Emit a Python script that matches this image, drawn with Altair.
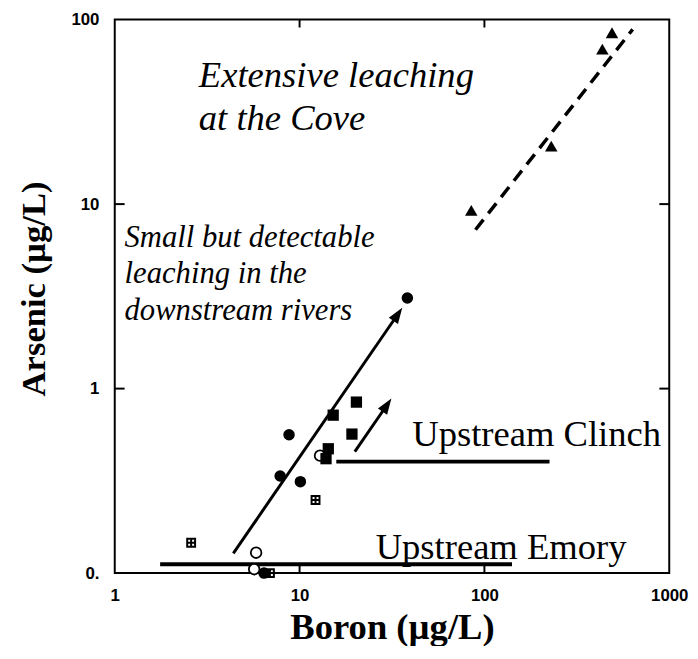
import altair as alt
import pandas as pd

# ---- data (Boron µg/L, Arsenic µg/L) ----
filled_circle_boron = [8.77, 7.85, 10.1, 38.3, 6.42]
filled_circle_arsenic = [0.562, 0.336, 0.313, 3.1, 0.1]
open_circle_boron = [12.9, 5.82, 5.68]
open_circle_arsenic = [0.433, 0.129, 0.105]
filled_square_boron = [20.3, 15.2, 19.2, 14.3, 13.9]
filled_square_arsenic = [0.845, 0.718, 0.567, 0.472, 0.417]
crossed_square_boron = [2.59, 12.2, 6.91]
crossed_square_arsenic = [0.146, 0.249, 0.1]
triangle_boron = [490, 434.6, 230, 84.9]
triangle_arsenic = [84.9, 69.2, 20.6, 9.25]

# trend line through the Cove samples (dashed)
trend_boron = [89.5, 634]
trend_arsenic = [7.26, 88.5]
# arrows: start and head
long_arrow_boron = [4.38, 34.0]
long_arrow_arsenic = [0.128, 2.53]
short_arrow_boron = [19.9, 29.7]
short_arrow_arsenic = [0.455, 0.815]
# upstream reference levels
clinch_boron = [15.8, 225]
clinch_arsenic = 0.402
emory_boron = [1.76, 141]
emory_arsenic = 0.1117

x_ticks = [1, 10, 100, 1000]
y_ticks = [0.1, 1, 10, 100]
inner_x_ticks = [10, 100]
inner_y_ticks = [1, 10]

annotations = [
    "Extensive leaching\nat the Cove",
    "Small but detectable\nleaching in the\ndownstream rivers",
    "Upstream Clinch",
    "Upstream Emory",
]
annot_boron = [2.85, 1.13, 40.7, 25.8]
annot_arsenic = [43.2, 5.89, 0.49, 0.119]

# ---- scales / axes ----
xscale = alt.Scale(type="log", domain=[1, 1000], nice=False)
yscale = alt.Scale(type="log", domain=[0.1, 100], nice=False)
xaxis = alt.Axis(
    values=x_ticks, title="Boron (µg/L)", format="~g",
    labelFont="Liberation Sans", labelFontSize=17, labelFontWeight="bold",
    labelPadding=15, labelFlush=False, labelColor="black",
    titleFont="Liberation Serif", titleFontSize=37, titleFontWeight="bold",
    titleX=280.5, titleY=66, titleBaseline="alphabetic", titleAlign="center",
    titleColor="black",
)
yaxis = alt.Axis(
    values=y_ticks, title="Arsenic (µg/L)",
    labelExpr="datum.value < 0.5 ? '0.' : format(datum.value, '~g')",
    labelFont="Liberation Sans", labelFontSize=17, labelFontWeight="bold",
    labelPadding=16, labelFlush=False, labelColor="black",
    titleFont="Liberation Serif", titleFontSize=35, titleFontWeight="bold",
    titleX=-71, titleY=272, titleAngle=-90, titleBaseline="alphabetic",
    titleAlign="center", titleColor="black",
)

def X(f):
    return alt.X(f, type="quantitative", scale=xscale, axis=xaxis)

def Y(f):
    return alt.Y(f, type="quantitative", scale=yscale, axis=yaxis)

def pts(bx, ay):
    return pd.DataFrame({"b": bx, "a": ay})

# ---- point layers ----
fc = alt.Chart(pts(filled_circle_boron, filled_circle_arsenic)).mark_point(
    shape="circle", filled=True, color="black", size=135, opacity=1
).encode(x=X("b"), y=Y("a"))

oc = alt.Chart(pts(open_circle_boron, open_circle_arsenic)).mark_point(
    shape="circle", filled=True, fill="white", stroke="black", strokeWidth=1.8,
    size=115, opacity=1
).encode(x=X("b"), y=Y("a"))

fs = alt.Chart(pts(filled_square_boron, filled_square_arsenic)).mark_point(
    shape="square", filled=True, color="black", size=130, opacity=1
).encode(x=X("b"), y=Y("a"))

cs = alt.Chart(pts(crossed_square_boron, crossed_square_arsenic)).mark_point(
    shape="M-1,-1H1V1H-1Z M0,-1V1 M-1,0H1", filled=True, fill="white",
    stroke="black", strokeWidth=2, size=64, opacity=1
).encode(x=X("b"), y=Y("a"))

tr = alt.Chart(pts(triangle_boron, triangle_arsenic)).mark_point(
    shape="triangle-up", filled=True, color="black", size=160, opacity=1
).encode(x=X("b"), y=Y("a"))

# ---- lines ----
def seg(bx, ay):
    return pd.DataFrame({"b1": [bx[0]], "a1": [ay[0]], "b2": [bx[1]], "a2": [ay[1]]})

def seg_chart(df, **kw):
    return alt.Chart(df).mark_rule(color="black", **kw).encode(
        x=X("b1"), y=Y("a1"), x2="b2", y2="a2"
    )

trend = seg_chart(seg(trend_boron, trend_arsenic), strokeWidth=3.5, strokeDash=[13, 8])
larrow = seg_chart(seg(long_arrow_boron, long_arrow_arsenic), strokeWidth=3)
sarrow = seg_chart(seg(short_arrow_boron, short_arrow_arsenic), strokeWidth=3)
clinch = seg_chart(seg(clinch_boron, [clinch_arsenic, clinch_arsenic]), strokeWidth=4)
emory = seg_chart(seg(emory_boron, [emory_arsenic, emory_arsenic]), strokeWidth=4)

heads = alt.Chart(pts([long_arrow_boron[1], short_arrow_boron[1]],
                      [long_arrow_arsenic[1], short_arrow_arsenic[1]])).mark_point(
    shape="M0,-1L0.7,1L-0.7,1Z", filled=True, color="black", size=256,
    angle=34, opacity=1
).encode(x=X("b"), y=Y("a"))

# ---- inward frame ticks ----
lt = alt.Chart(pd.DataFrame({"v": inner_y_ticks})).mark_rule(color="black", strokeWidth=2).encode(
    y=Y("v"), x=alt.value(0), x2=alt.value(10))
rt = alt.Chart(pd.DataFrame({"v": inner_y_ticks})).mark_rule(color="black", strokeWidth=2).encode(
    y=Y("v"), x=alt.value(551), x2=alt.value(561))
bt = alt.Chart(pd.DataFrame({"v": inner_x_ticks})).mark_rule(color="black", strokeWidth=2).encode(
    x=X("v"), y=alt.value(552), y2=alt.value(560))
tt = alt.Chart(pd.DataFrame({"v": inner_x_ticks})).mark_rule(color="black", strokeWidth=2).encode(
    x=X("v"), y=alt.value(0), y2=alt.value(8))

# ---- annotations ----
adf = pd.DataFrame({"t": annotations, "b": annot_boron, "a": annot_arsenic})
t1 = alt.Chart(adf.iloc[[0]]).mark_text(
    align="left", baseline="alphabetic", font="Liberation Serif", fontStyle="italic",
    fontSize=37, lineBreak="\n", lineHeight=44, color="black"
).encode(x=X("b"), y=Y("a"), text="t:N")
t2 = alt.Chart(adf.iloc[[1]]).mark_text(
    align="left", baseline="alphabetic", font="Liberation Serif", fontStyle="italic",
    fontSize=31, lineBreak="\n", lineHeight=37, color="black"
).encode(x=X("b"), y=Y("a"), text="t:N")
t3 = alt.Chart(adf.iloc[[2, 3]]).mark_text(
    align="left", baseline="alphabetic", font="Liberation Serif",
    fontSize=37, color="black"
).encode(x=X("b"), y=Y("a"), text="t:N")

chart = alt.layer(
    lt, rt, bt, tt,
    clinch, emory, trend, larrow, sarrow, heads,
    t1, t2, t3,
    oc, cs, fc, fs, tr,
).properties(
    width=561, height=560,
    autosize=alt.AutoSizeParams(type="none"),
    padding={"left": 108, "top": 8, "right": 21, "bottom": 70},
    background="white",
).configure_view(
    stroke="black", strokeWidth=2
).configure_axis(
    grid=False, domain=False, ticks=False
)

chart.save("out.html", embed_options={"renderer": "svg", "actions": False})
